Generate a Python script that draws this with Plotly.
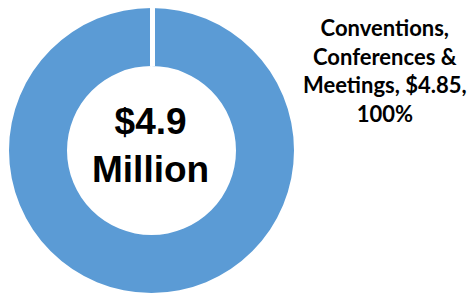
import plotly.graph_objects as go

categories = ["Conventions, Conferences & Meetings"]
values = [4.85]
total_label = "$4.9<br>Million"
slice_color = "#5B9BD5"

total = sum(values)
pct = [v / total * 100 for v in values]

W, H = 476, 294

fig = go.Figure()
fig.add_trace(go.Pie(
    labels=categories,
    values=values,
    hole=0.593,
    sort=False,
    direction="clockwise",
    rotation=0,
    textinfo="none",
    hoverinfo="label+value+percent",
    marker=dict(colors=[slice_color], line=dict(color="white", width=0)),
    domain=dict(x=[1 / W, 286 / W], y=[1 - 285 / H, 1]),
    showlegend=False,
))

# center label
fig.add_annotation(
    x=142.5 / W, y=1 - 137 / H, xref="paper", yref="paper",
    text=f"<b>{total_label}</b>", showarrow=False,
    font=dict(family="Arial, Liberation Sans", size=37, color="black"),
    align="center", xanchor="center", yanchor="middle",
)

# slice label
name_lines = "Conventions,<br>Conferences &amp;<br>Meetings"
lab = f"<b>{name_lines}, ${values[0]:.2f},<br>{pct[0]:.0f}%</b>"
fig.add_annotation(
    x=377 / W, y=1 - 62 / H, xref="paper", yref="paper",
    text=lab, showarrow=False,
    font=dict(family="Lato", size=22, color="black"),
    align="center", xanchor="center", yanchor="middle",
)

# white separator at slice start
fig.add_shape(
    type="line", xref="paper", yref="paper",
    x0=144.5 / W, x1=144.5 / W, y0=1.02, y1=1 - 58 / H,
    line=dict(color="white", width=5),
)

fig.update_layout(
    width=W, height=H,
    margin=dict(l=0, r=0, t=0, b=0),
    paper_bgcolor="white", plot_bgcolor="white",
)
fig.write_html("out.html")
